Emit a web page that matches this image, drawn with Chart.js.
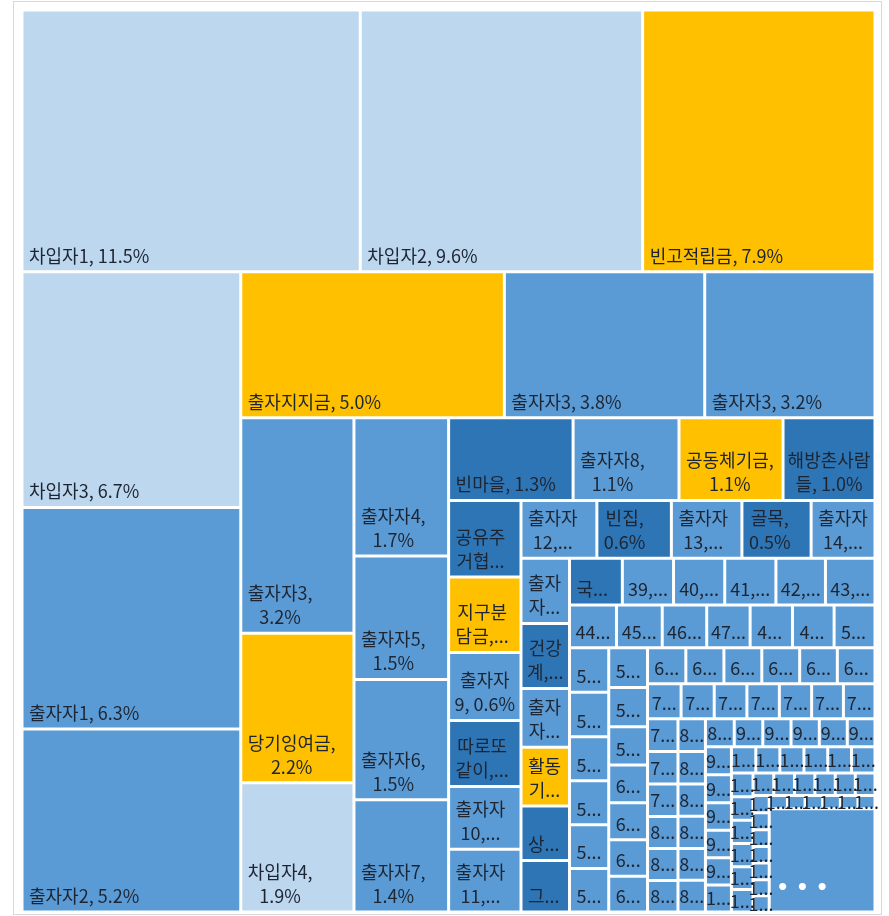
<!DOCTYPE html>
<html>
<head>
<meta charset="utf-8">
<script src="https://cdn.jsdelivr.net/npm/chart.js@4.4.1/dist/chart.umd.min.js"></script>
<style>
  html, body { margin: 0; padding: 0; background: #fff; }
  #wrap { position: relative; width: 889px; height: 916px; }
  #frame { position: absolute; left: 13px; top: 1px; width: 869px; height: 914px; border: 1px solid #d9d9d9; box-sizing: border-box; }
  canvas { position: absolute; left: 0; top: 0; }
</style>
</head>
<body>
<div id="wrap"><div id="frame"></div><canvas id="chart" width="889" height="916"></canvas></div>
<script>
// category names, in the order the treemap lays them out (largest first)
const names = [
  '차입자1', '차입자2', '빈고적립금', '차입자3', '출자자1', '출자자2', '출자지지금', '출자자3',
  '출자자3', '출자자3', '당기잉여금', '차입자4', '출자자4', '출자자5', '출자자6', '출자자7',
  '빈마을', '출자자8', '공동체기금', '해방촌사람들', '공유주거협동조합', '지구분담금', '출자자9', '따로또같이',
  '출자자10', '출자자11', '출자자12', '빈집', '출자자13', '골목', '출자자14', '출자자15',
  '건강계', '출자자16', '활동기금', '상호부조', '그루', '국민',
  '39', '40', '41', '42', '43',
  '44', '45', '46', '47', '48', '49', '50',
  '51', '52', '53', '54', '55', '56',
  '57', '58', '59', '60', '61', '62', '63',
  '64', '65', '66', '67', '68', '69',
  '70', '71', '72', '73', '74', '75', '76',
  '77', '78', '79', '80', '81', '82',
  '83', '84', '85', '86', '87', '88',
  '89', '90', '91', '92', '93', '94',
  '95', '96', '97', '98', '99', '100',
  '101', '102', '103', '104', '105', '106',
  '107', '108', '109', '110', '111', '112',
  '113', '114', '115', '116', '117', '118',
  '119', '120', '121', '122', '123', '124', '125',
  '126', '127', '128', '129', '130', '131',
  '기타'
];

// share of the total, in percent
const shares = [
  11.5, 9.6, 7.9, 6.7, 6.3, 5.2, 5.0, 3.8,
  3.23, 3.17, 2.2, 1.9, 1.7, 1.52, 1.48, 1.38,
  1.34, 1.14, 1.12, 0.99, 0.72, 0.71, 0.64, 0.62,
  0.59, 0.59, 0.57, 0.56, 0.53, 0.52, 0.48, 0.41,
  0.41, 0.37, 0.37, 0.343, 0.325, 0.32,
  0.31, 0.31, 0.31, 0.30, 0.30,
  0.262, 0.255, 0.248, 0.242, 0.236, 0.232, 0.228,
  0.227, 0.226, 0.225, 0.224, 0.223, 0.222,
  0.200, 0.197, 0.193, 0.190, 0.187, 0.184, 0.180,
  0.179, 0.178, 0.177, 0.177, 0.176, 0.176,
  0.152, 0.150, 0.148, 0.147, 0.146, 0.144, 0.143,
  0.130, 0.129, 0.128, 0.127, 0.126, 0.125,
  0.117, 0.116, 0.115, 0.115, 0.114, 0.113,
  0.105, 0.104, 0.103, 0.103, 0.102, 0.101,
  0.095, 0.094, 0.093, 0.093, 0.092, 0.091,
  0.083, 0.082, 0.082, 0.081, 0.081, 0.080,
  0.067, 0.066, 0.065, 0.065, 0.064, 0.063,
  0.061, 0.061, 0.060, 0.060, 0.059, 0.058,
  0.036, 0.036, 0.035, 0.035, 0.035, 0.034, 0.034,
  0.031, 0.030, 0.030, 0.030, 0.030, 0.029,
  1.42
];

// kind of each entry: B borrower, M member, R reserve, O group, X "more"
const kinds = [
  'B', 'B', 'R', 'B', 'M', 'M', 'R', 'M',
  'M', 'M', 'R', 'B', 'M', 'M', 'M', 'M',
  'O', 'M', 'R', 'O', 'O', 'R', 'M', 'O',
  'M', 'M', 'M', 'O', 'M', 'O', 'M', 'M',
  'O', 'M', 'R', 'O', 'O', 'O',
  'M', 'M', 'M', 'M', 'M',
  'M', 'M', 'M', 'M', 'M', 'M', 'M',
  'M', 'M', 'M', 'M', 'M', 'M',
  'M', 'M', 'M', 'M', 'M', 'M', 'M',
  'M', 'M', 'M', 'M', 'M', 'M',
  'M', 'M', 'M', 'M', 'M', 'M', 'M',
  'M', 'M', 'M', 'M', 'M', 'M',
  'M', 'M', 'M', 'M', 'M', 'M',
  'M', 'M', 'M', 'M', 'M', 'M',
  'M', 'M', 'M', 'M', 'M', 'M',
  'M', 'M', 'M', 'M', 'M', 'M',
  'M', 'M', 'M', 'M', 'M', 'M',
  'M', 'M', 'M', 'M', 'M', 'M',
  'M', 'M', 'M', 'M', 'M', 'M', 'M',
  'M', 'M', 'M', 'M', 'M', 'M',
  'X'
];

const palette = { B: '#BDD7EE', M: '#5B9BD5', R: '#FFC000', O: '#2E75B6', X: '#5B9BD5' };

// squarified layout, keeping the given order; a strip keeps growing
// while the newest cell gets squarer. the last ("more") entry stands alone.
function squarify(values, x, y, w, h) {
  const total = values.reduce((a, b) => a + b, 0);
  const k = (w * h) / total;
  const areas = values.map(v => v * k);
  const out = [];
  const last = areas.length - 1;
  let i = 0;
  while (i < areas.length) {
    const column = w > h;
    const side = column ? h : w;
    const ratio = (a, sum) => {
      const thick = sum / side;
      const len = a / thick;
      return Math.max(thick / len, len / thick);
    };
    let sum = areas[i];
    let j = i + 1;
    let prev = ratio(areas[i], sum);
    while (j < areas.length && j !== last) {
      const r = ratio(areas[j], sum + areas[j]);
      if (r > prev) break;
      prev = r;
      sum += areas[j];
      j++;
    }
    const thick = sum / side;
    let off = 0;
    for (let n = i; n < j; n++) {
      const len = areas[n] / thick;
      if (column) out.push({ x: x, y: y + off, w: thick, h: len });
      else out.push({ x: x + off, y: y, w: len, h: thick });
      off += len;
    }
    if (column) { x += thick; w -= thick; } else { y += thick; h -= thick; }
    i = j;
  }
  return out;
}

class TreemapController extends Chart.DatasetController {
  update(mode) {
    const meta = this._cachedMeta;
    this.updateElements(meta.data, 0, meta.data.length, mode);
  }
  updateElements(rects, start, count, mode) {
    const meta = this._cachedMeta;
    const xs = meta.xScale;
    const ys = meta.yScale;
    const W = Math.abs(xs.getPixelForValue(1) - xs.getPixelForValue(0));
    const H = Math.abs(ys.getPixelForValue(1) - ys.getPixelForValue(0));
    const cells = squarify(this.getDataset().data, 0, 0, W, H);
    for (let i = start; i < start + count; i++) {
      const c = cells[i];
      const left = xs.getPixelForValue(c.x / W);
      const right = xs.getPixelForValue((c.x + c.w) / W);
      const top = ys.getPixelForValue(c.y / H);
      const bottom = ys.getPixelForValue((c.y + c.h) / H);
      this.updateElement(rects[i], i, {
        x: (left + right) / 2,
        y: top,
        base: bottom,
        width: right - left,
        height: bottom - top,
        horizontal: false,
        borderSkipped: {},
        inflateAmount: 0,
        options: this.resolveDataElementOptions(i, mode)
      }, mode);
    }
  }
}
TreemapController.id = 'treemap';
TreemapController.defaults = { datasetElementType: false, dataElementType: 'bar' };
TreemapController.overrides = {
  scales: { x: { type: 'linear', display: false }, y: { type: 'linear', display: false } }
};
Chart.register(TreemapController);

const FONT = '18px "Noto Sans CJK KR", "Noto Sans", sans-serif';
const LINE = 24;   // drawn line spacing
const SLOT = 26.5; // room a line needs when deciding how many fit

// break opportunities: between hangul syllables and at spaces;
// runs of digits/latin and trailing punctuation stay together
function toUnits(text) {
  const units = [];
  text.split(' ').forEach((word, wi) => {
    const segs = word.match(/[\uAC00-\uD7A3][,.;:%)]*|[^\uAC00-\uD7A3]+/g) || [];
    segs.forEach((s, si) => units.push({ s, space: wi > 0 && si === 0 }));
  });
  return units;
}

function joinUnits(units) {
  return units.map((u, n) => (n > 0 && u.space ? ' ' : '') + u.s).join('');
}

function wrapLabel(ctx, text, maxW, maxLines) {
  const fits = t => ctx.measureText(t).width <= maxW;
  const units = toUnits(text);
  const lines = [];
  let startIdx = 0;
  for (let n = 1; n <= units.length; n++) {
    if (n === units.length) { lines.push([startIdx, n]); break; }
    if (!fits(joinUnits(units.slice(startIdx, n + 1)))) {
      lines.push([startIdx, n]);
      startIdx = n;
    }
  }
  if (lines.length <= maxLines) return lines.map(([a, b]) => joinUnits(units.slice(a, b)));
  const kept = lines.slice(0, maxLines - 1).map(([a, b]) => joinUnits(units.slice(a, b)));
  const rest = units.slice(lines[maxLines - 1][0]);
  let best = '';
  for (let n = 1; n <= rest.length; n++) {
    const t = joinUnits(rest.slice(0, n)) + '...';
    if (!fits(t)) break;
    best = t;
  }
  if (!best) {
    const first = rest[0].s;
    let cut = first[0];
    for (let c = 2; c < first.length; c++) {
      if (!fits(first.slice(0, c) + '...')) break;
      cut = first.slice(0, c);
    }
    best = cut + '...';
  }
  kept.push(best);
  return kept;
}

const labelPlugin = {
  id: 'cellLabels',
  afterDatasetsDraw(chart) {
    const ctx = chart.ctx;
    const meta = chart.getDatasetMeta(0);
    ctx.save();
    ctx.textBaseline = 'middle';
    ctx.textAlign = 'left';
    meta.data.forEach((el, i) => {
      const w = el.width;
      const h = el.base - el.y;
      const left = el.x - w / 2;
      const top = el.y;
      if (kinds[i] === 'X') {
        ctx.font = 'bold 20px "DejaVu Sans"';
        ctx.fillStyle = '#ffffff';
        ctx.fillText('• • •', left + 7, top + h - 23);
        return;
      }
      ctx.font = FONT;
      ctx.fillStyle = '#1d2532';
      const text = names[i] + ', ' + shares[i].toFixed(1) + '%';
      const maxLines = Math.max(1, Math.floor((h - 4) / SLOT));
      const lines = wrapLabel(ctx, text, w - 8, maxLines);
      const widths = lines.map(l => ctx.measureText(l).width);
      const blockW = Math.max(...widths);
      const blockH = lines.length * LINE;
      const bx = left + Math.min(7, (w - blockW) / 2);
      const by = h >= blockH + 8 ? top + h - 4 - blockH : top + (h - blockH) / 2;
      lines.forEach((l, k) => {
        ctx.fillText(l, bx + (blockW - widths[k]) / 2, by + k * LINE + LINE / 2);
      });
    });
    ctx.restore();
  }
};

new Chart(document.getElementById('chart'), {
  type: 'treemap',
  data: {
    datasets: [{
      data: shares,
      backgroundColor: kinds.map(k => palette[k]),
      borderColor: '#ffffff',
      borderWidth: 1.5,
      borderSkipped: false,
      borderRadius: 0,
      inflateAmount: 0
    }]
  },
  options: {
    responsive: false,
    animation: false,
    events: [],
    layout: { padding: { left: 22, top: 10, right: 14, bottom: 4 } },
    scales: {
      x: { type: 'linear', min: 0, max: 1, display: false },
      y: { type: 'linear', min: 0, max: 1, reverse: true, display: false }
    },
    plugins: { legend: { display: false }, tooltip: { enabled: false } }
  },
  plugins: [labelPlugin]
});
</script>
</body>
</html>
